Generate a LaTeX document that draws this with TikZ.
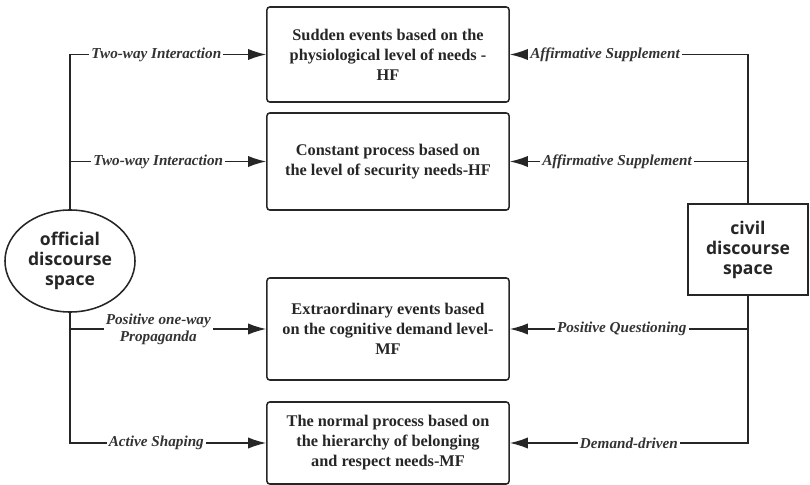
\documentclass[tikz,border=0pt]{standalone}
\usepackage{fontspec}
\setmainfont{Liberation Serif}
\newfontfamily\spacefont{Open Sans}
\usepackage{tikz}
\usetikzlibrary{shapes.geometric, arrows.meta, positioning}

\begin{document}
\begin{tikzpicture}[x=0.025cm, y=-0.025cm,
            box/.style={draw=black!85, rectangle, rounded corners=2pt, line width=1.1pt, minimum width=6.05cm, align=center, text=black!85, font=\bfseries\fontsize{11.6}{14.2}\selectfont},
            space/.style={draw=black!85, line width=1.1pt, align=center, text=black!85, font=\spacefont\bfseries\fontsize{12.5}{14.2}\selectfont},
            lbl/.style={fill=white, inner sep=1.5pt, align=center, text=black!80, font=\bfseries\itshape\fontsize{10.8}{12}\selectfont},
            link/.style={draw=black!85, line width=1.1pt, -{Latex[length=4.5mm, width=2.8mm]}}]

            \useasboundingbox (0,0) rectangle (810,485);

            % the two spaces
            \node[space, ellipse, minimum width=3.25cm, minimum height=2.55cm, inner sep=0pt] (official) at (70,261) {official\\discourse\\space};
            \node[space, rectangle, minimum width=3cm, minimum height=2.275cm] (civil) at (748,249.5) {civil\\discourse\\space};

            % the four boxes
            \node[box, minimum height=2.375cm] (sudden) at (388,54.5) {Sudden events based on the\\physiological level of needs -\\HF};
            \node[box, minimum height=2.425cm] (constant) at (388,161.5) {Constant process based on\\the level of security needs-HF};
            \node[box, minimum height=2.55cm] (extra) at (388,329) {Extraordinary events based\\on the cognitive demand level-\\MF};
            \node[box, minimum height=2.05cm] (normal) at (388,443) {The normal process based on\\the hierarchy of belonging\\and respect needs-MF};

            % official side
            \draw[link] (official.north) |- node[lbl, pos=0.72] {Two-way Interaction} (sudden.west);
            \draw[link] (official.north |- constant.west) -- node[lbl, pos=0.45] {Two-way Interaction} (constant.west);
            \draw[link] (official.south |- extra.west) -- node[lbl, pos=0.45] {Positive one-way\\Propaganda} (extra.west);
            \draw[link] (official.south) |- node[lbl, pos=0.72] {Active Shaping} (normal.west);

            % civil side
            \draw[link] (civil.north) |- node[lbl, pos=0.8] {Affirmative Supplement} (sudden.east);
            \draw[link] (civil.north |- constant.east) -- node[lbl, pos=0.55] {Affirmative Supplement} (constant.east);
            \draw[link] (civil.south |- extra.east) -- node[lbl, pos=0.53] {Positive Questioning} (extra.east);
            \draw[link] (civil.south) |- node[lbl, pos=0.75] {Demand-driven} (normal.east);
        \end{tikzpicture}
\end{document}
